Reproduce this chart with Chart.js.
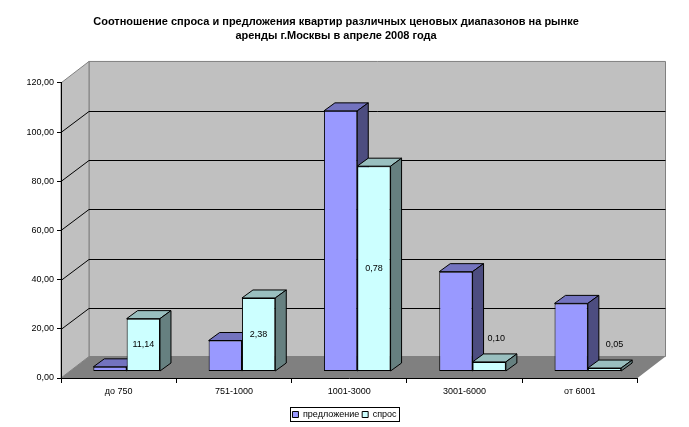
<!DOCTYPE html>
<html>
<head>
<meta charset="utf-8">
<style>
html, body { margin: 0; padding: 0; background: #fff; }
canvas { display: block; }
</style>
<script src="https://cdn.jsdelivr.net/npm/chart.js@4"></script>
</head>
<body>
<canvas id="c" width="689" height="427"></canvas>
<script>
const categories = ['до 750', '751-1000', '1001-3000', '3001-6000', 'от 6001'];
const supply = [1.9, 12.6, 106, 40.6, 27.7];
const demand = [21.5, 29.9, 83.5, 3.9, 1.4];
const ratioLabels = ['11,14', '2,38', '0,78', '0,10', '0,05'];
const titleLines = ['Соотношение спроса и предложения квартир различных ценовых диапазонов на рынке', 'аренды г.Москвы в апреле 2008 года'];

const FONT = '"Liberation Sans", Arial, sans-serif';
// room depth and bar depth of the fake 3D
const ROOM_DX = 28, ROOM_DY = 21.5;
const BAR_DX = 11, BAR_DY = 8;
const BAR_SHIFT_X = 8, BAR_SHIFT_Y = -6.5;
// the two smallest bars have their label floating above them
const LABEL_SHIFT = { 3: [7, -23], 4: [10, -24] };
const FACE_COLORS = [
    { top: '#7373bf', side: '#4d4d80' },
    { top: '#99bfbf', side: '#668080' }
];

function poly(ctx, pts, fill, stroke) {
    ctx.beginPath();
    pts.forEach((p, i) => i ? ctx.lineTo(p[0], p[1]) : ctx.moveTo(p[0], p[1]));
    ctx.closePath();
    if (fill) { ctx.fillStyle = fill; ctx.fill(); }
    if (stroke) { ctx.strokeStyle = stroke; ctx.lineWidth = 1; ctx.stroke(); }
}

const room3d = {
    id: 'room3d',
    beforeLayout(chart) {
        // legend box is tighter than what Chart.js measures
        const lg = chart.legend;
        if (!lg._fitWrapped) {
            const fit = lg.fit;
            lg.fit = function () { fit.call(this); this.height = 15; };
            lg._fitWrapped = true;
        }
    },
    afterLayout(chart) {
        // title sits a little left of the canvas centre
        chart.titleBlock.right -= 17;
    },
    beforeDraw(chart) {
        const ctx = chart.ctx, a = chart.chartArea, y = chart.scales.y;
        const l = a.left, r = a.right, t = a.top, b = a.bottom;
        ctx.save();
        poly(ctx, [[l + ROOM_DX, t - ROOM_DY], [r + ROOM_DX, t - ROOM_DY], [r + ROOM_DX, b - ROOM_DY], [l + ROOM_DX, b - ROOM_DY]], '#c0c0c0', '#808080');
        poly(ctx, [[l, t], [l + ROOM_DX, t - ROOM_DY], [l + ROOM_DX, b - ROOM_DY], [l, b]], '#c0c0c0', '#808080');
        poly(ctx, [[l, b], [r, b], [r + ROOM_DX, b - ROOM_DY], [l + ROOM_DX, b - ROOM_DY]], '#808080', null);
        ctx.strokeStyle = '#000';
        ctx.lineWidth = 1;
        y.ticks.forEach(tick => {
            if (tick.value === 0 || tick.value === y.max) return;
            const py = Math.round(y.getPixelForValue(tick.value)) + 0.5;
            const by = Math.round(py - ROOM_DY) + 0.5;
            ctx.beginPath();
            ctx.moveTo(l, py);
            ctx.lineTo(l + ROOM_DX, by);
            ctx.lineTo(r + ROOM_DX, by);
            ctx.stroke();
        });
        ctx.restore();
    },
    // datasets go left to right so each one covers the side of the previous bar
    beforeDatasetsDraw(chart) {
        const ctx = chart.ctx;
        chart.data.datasets.forEach((ds, i) => {
            const meta = chart.getDatasetMeta(i), colors = FACE_COLORS[i];
            ctx.save();
            ctx.translate(BAR_SHIFT_X, BAR_SHIFT_Y);
            meta.data.forEach(bar => {
                const x0 = bar.x - bar.width / 2, x1 = bar.x + bar.width / 2;
                poly(ctx, [[x0, bar.y], [x0 + BAR_DX, bar.y - BAR_DY], [x1 + BAR_DX, bar.y - BAR_DY], [x1, bar.y]], colors.top, '#000');
                poly(ctx, [[x1, bar.y], [x1 + BAR_DX, bar.y - BAR_DY], [x1 + BAR_DX, bar.base - BAR_DY], [x1, bar.base]], colors.side, '#000');
            });
            meta.controller.draw();
            ctx.restore();
        });

        const demandMeta = chart.getDatasetMeta(1);
        ctx.save();
        ctx.font = '9px ' + FONT;
        ctx.fillStyle = '#000';
        ctx.textAlign = 'center';
        ctx.textBaseline = 'middle';
        demandMeta.data.forEach((bar, i) => {
            const shift = LABEL_SHIFT[i] || [0, 0];
            const x = bar.x + BAR_SHIFT_X + shift[0];
            const y = (shift[1] ? bar.y : (bar.y + bar.base) / 2) + BAR_SHIFT_Y + shift[1];
            ctx.fillText(ratioLabels[i], x, y);
        });
        ctx.restore();
        return false;
    },
    afterDraw(chart) {
        const ctx = chart.ctx, lg = chart.legend;
        ctx.save();
        ctx.strokeStyle = '#000';
        ctx.lineWidth = 1;
        ctx.strokeRect(290.5, lg.top + 0.5, 109, lg.height - 1);
        ctx.restore();
    }
};

new Chart(document.getElementById('c'), {
    type: 'bar',
    data: {
        labels: categories,
        datasets: [
            { label: 'предложение', data: supply, backgroundColor: '#9999ff', borderColor: '#000', borderWidth: 1, borderSkipped: false },
            { label: 'спрос', data: demand, backgroundColor: '#ccffff', borderColor: '#000', borderWidth: 1, borderSkipped: false }
        ]
    },
    options: {
        responsive: false,
        animation: false,
        devicePixelRatio: 1,
        categoryPercentage: 0.578,
        barPercentage: 1,
        layout: { padding: { left: 0, right: 0, top: 0, bottom: 5 } },
        scales: {
            x: {
                grid: { drawOnChartArea: false, tickLength: 5, color: '#000' },
                border: { color: '#000' },
                ticks: { color: '#000', font: { family: FONT, size: 9 }, padding: 3, maxRotation: 0 },
                afterFit(s) { s.height = 29; }
            },
            y: {
                min: 0,
                max: 120,
                grid: { drawOnChartArea: false, tickLength: 4, color: '#000' },
                border: { color: '#000' },
                ticks: {
                    stepSize: 20,
                    color: '#000',
                    font: { family: FONT, size: 9 },
                    padding: 3,
                    callback: v => v.toFixed(2).replace('.', ',')
                },
                afterFit(s) { s.width = 61; }
            },
            // empty axis, only keeps the room's right margin free
            margin: {
                position: 'right',
                grid: { display: false },
                border: { display: false },
                ticks: { display: false },
                afterFit(s) { s.width = 51.5; }
            }
        },
        plugins: {
            title: {
                display: true,
                text: titleLines,
                color: '#000',
                font: { family: FONT, size: 11, weight: 'bold', lineHeight: 1.27 },
                padding: { top: 15, bottom: 40 }
            },
            legend: {
                position: 'bottom',
                labels: {
                    color: '#000',
                    font: { family: FONT, size: 9 },
                    boxWidth: 6,
                    boxHeight: 6,
                    padding: 3
                }
            },
            tooltip: { enabled: false }
        }
    },
    plugins: [room3d]
});
</script>
</body>
</html>
